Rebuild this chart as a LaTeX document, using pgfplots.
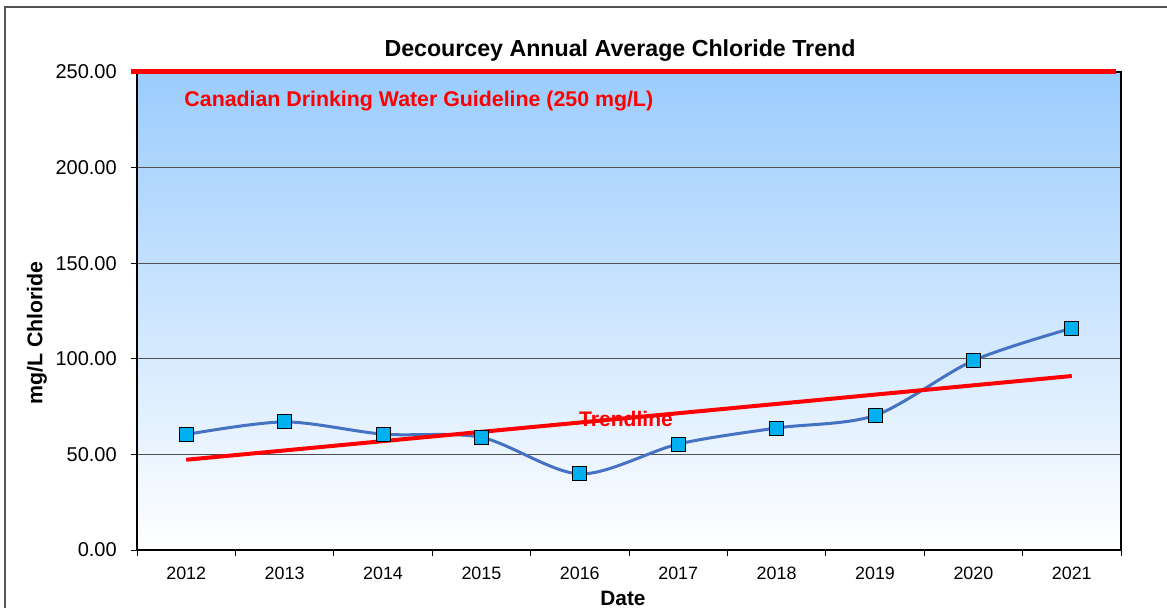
\documentclass[border=0pt]{standalone}
\usepackage{fontspec}
\setmainfont{Liberation Sans}
\usepackage{pgfplots}
\pgfplotsset{compat=1.18}
\definecolor{gridc}{RGB}{80,80,80}
\definecolor{bgtop}{RGB}{155,204,253}
\definecolor{serblue}{RGB}{70,114,196}
\definecolor{mkfill}{RGB}{0,176,240}
\definecolor{framegray}{RGB}{85,85,85}
\begin{document}
\begin{tikzpicture}[x=0.75pt,y=0.75pt]
\useasboundingbox (0,0) rectangle (1167,607);
\draw[framegray, line width=1.1pt] (5,-20) -- (5,600) -- (1200,600);
\begin{axis}[
  at={(102.75pt,42.75pt)}, anchor=south west,
  scale only axis, width=738pt, height=358.5pt,
  xmin=-0.5, xmax=9.5, ymin=0, ymax=250,
  xtick={0,1,2,3,4,5,6,7,8,9},
  xticklabels={2012,2013,2014,2015,2016,2017,2018,2019,2020,2021},
  minor xtick={-0.5,0.5,1.5,2.5,3.5,4.5,5.5,6.5,7.5,8.5,9.5},
  ytick={0,50,100,150,200,250},
  tick align=outside, tick pos=left,
  major tick length=4.5pt, minor tick length=4.5pt,
  major x tick style={draw=none},
  every tick/.style={black, line width=0.6pt},
  ymajorgrids, grid style={gridc, line width=0.75pt},
  axis line style={black, line width=0.9pt},
  axis background/.style={shade, top color=bgtop, bottom color=white},
  clip=false,
  /pgf/number format/assume math mode=true,
  yticklabel style={/pgf/number format/fixed, /pgf/number format/fixed zerofill, /pgf/number format/precision=2, font=\fontsize{15}{18}\selectfont, inner sep=0pt, xshift=-10.5pt},
  xticklabel style={font=\fontsize{13.4}{16}\selectfont, inner sep=0pt, yshift=-8pt},
]
\addplot[serblue, line width=2.25pt, smooth, tension=0.5, mark=square*, mark size=5.25pt,
  mark options={fill=mkfill, draw=black, line width=0.75pt, solid}]
  coordinates {(0,60.4) (1,67.0) (2,60.6) (3,58.9) (4,39.8) (5,55.4) (6,63.8) (7,70.4) (8,99.1) (9,116.0)};
\addplot[red, line width=3pt] coordinates {(0,47.2) (9,91.0)};
\addplot[red, line width=3.75pt] coordinates {(-0.56,250) (9.45,250)};
\node[anchor=base west, inner sep=0pt, text=red, font=\bfseries\fontsize{16}{19}\selectfont] at (axis cs:-0.02,231.7) {Canadian Drinking Water Guideline (250 mg/L)};
\node[anchor=base, inner sep=0pt, text=red, font=\bfseries\fontsize{15.8}{19}\selectfont] at (axis cs:4.47,64.5) {Trendline};
\end{axis}
\node[anchor=base, inner sep=0pt, font=\bfseries\fontsize{17.4}{21}\selectfont] at (620,550) {Decourcey Annual Average Chloride Trend};
\node[rotate=90, anchor=center, inner sep=0pt, font=\bfseries\fontsize{16}{19}\selectfont] at (37,274) {mg/L Chloride};
\node[anchor=base, inner sep=0pt, font=\bfseries\fontsize{15.6}{19}\selectfont] at (623,2) {Date};
\end{tikzpicture}
\end{document}
